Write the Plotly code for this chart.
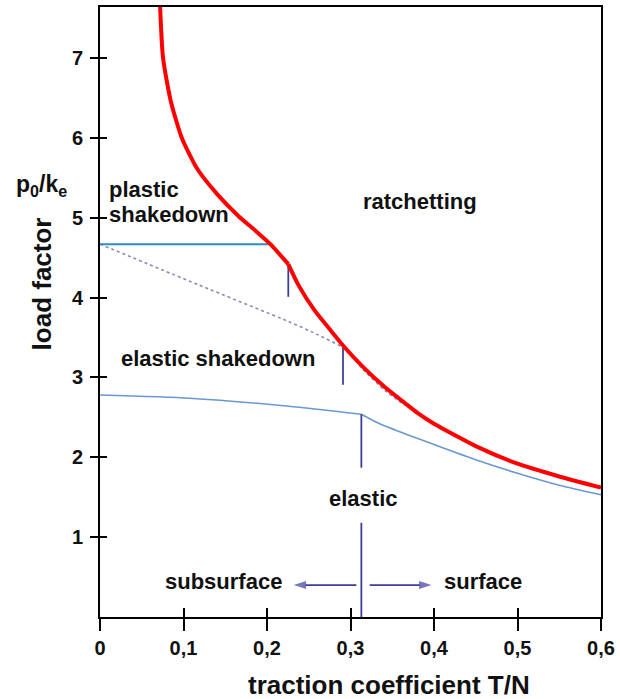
import plotly.graph_objects as go

# ---- data ----
# ratchetting boundary (red), split at the kink
red_upper_x = [0.072, 0.0755, 0.085, 0.098, 0.116, 0.140, 0.166, 0.186, 0.204, 0.2255]
red_upper_y = [7.64, 7.00, 6.45, 6.00, 5.62, 5.30, 5.02, 4.84, 4.67, 4.42]
red_lower_x = [0.2255, 0.2375, 0.257, 0.277, 0.291, 0.317, 0.341, 0.365, 0.381, 0.40, 0.45, 0.50, 0.55, 0.60]
red_lower_y = [4.42, 4.16, 3.84, 3.58, 3.40, 3.11, 2.88, 2.68, 2.55, 2.42, 2.14, 1.92, 1.76, 1.62]

# plastic shakedown limit (horizontal)
plastic_x = [0.0, 0.204]
plastic_y = [4.67, 4.67]

# elastic shakedown limit (dotted)
eshake_x = [0.0, 0.118, 0.226, 0.26, 0.291, 0.317, 0.341, 0.365]
eshake_y = [4.67, 4.16, 3.70, 3.54, 3.37, 3.08, 2.84, 2.65]

# elastic limit (thin blue), split at the kink
elastic_left_x = [0.0, 0.107, 0.226, 0.313]
elastic_left_y = [2.78, 2.74, 2.64, 2.54]
elastic_right_x = [0.313, 0.333, 0.369, 0.40, 0.45, 0.50, 0.55, 0.60]
elastic_right_y = [2.54, 2.43, 2.28, 2.16, 1.97, 1.80, 1.65, 1.53]

# vertical marker segments (x, y_top, y_bottom)
marker_x = [0.2255, 0.291, 0.313, 0.313]
marker_top = [4.42, 3.37, 2.54, 1.18]
marker_bot = [4.01, 2.91, 1.87, 0.0]

# region labels
labels = ["plastic", "shakedown", "ratchetting", "elastic shakedown", "elastic", "subsurface", "surface"]
label_x = [0.0084, 0.0084, 0.383, 0.141, 0.315, 0.148, 0.459]
label_y = [5.35, 5.04, 5.20, 3.24, 1.49, 0.45, 0.45]
label_anchor = ["left", "left", "center", "center", "center", "center", "center"]

# arrows (start x, end x, y)
arrow_x0 = [0.307, 0.323]
arrow_x1 = [0.232, 0.397]
arrow_y = [0.40, 0.40]

x_ticks = [0, 0.1, 0.2, 0.3, 0.4, 0.5, 0.6]
x_ticktext = ["0", "0,1", "0,2", "0,3", "0,4", "0,5", "0,6"]
y_ticks = [1, 2, 3, 4, 5, 6, 7]
y_ticktext = ["1", "2", "3", "4", "5", "6", "7"]

FONT = "Liberation Sans, Arial, sans-serif"
RED = "#ff0000"
LBLUE = "#2a8cc6"
CBLUE = "#6a98d2"
DBLUE = "#3d3d9e"
DOT = "#8a8ab6"

fig = go.Figure()

fig.add_trace(go.Scatter(x=eshake_x, y=eshake_y, mode="lines",
                         line=dict(color=DOT, width=1.6, dash="dot", shape="spline", smoothing=0.6),
                         hoverinfo="skip", showlegend=False))
fig.add_trace(go.Scatter(x=plastic_x, y=plastic_y, mode="lines",
                         line=dict(color=LBLUE, width=2),
                         hoverinfo="skip", showlegend=False))
for xs, ys in [(elastic_left_x, elastic_left_y), (elastic_right_x, elastic_right_y)]:
    fig.add_trace(go.Scatter(x=xs, y=ys, mode="lines",
                             line=dict(color=CBLUE, width=1.6, shape="spline", smoothing=0.6),
                             hoverinfo="skip", showlegend=False))
for mx, t, b in zip(marker_x, marker_top, marker_bot):
    fig.add_trace(go.Scatter(x=[mx, mx], y=[t, b], mode="lines",
                             line=dict(color=DBLUE, width=1.8),
                             hoverinfo="skip", showlegend=False))
for xs, ys in [(red_upper_x, red_upper_y), (red_lower_x, red_lower_y)]:
    fig.add_trace(go.Scatter(x=xs, y=ys, mode="lines",
                             line=dict(color=RED, width=4, shape="spline", smoothing=0.6),
                             hoverinfo="skip", showlegend=False))
for x0, x1, y in zip(arrow_x0, arrow_x1, arrow_y):
    fig.add_trace(go.Scatter(x=[x0, x1], y=[y, y], mode="lines+markers",
                             line=dict(color=DBLUE, width=1.8),
                             marker=dict(symbol=["circle", "arrow"], size=[0, 13], color=DBLUE,
                                         angleref="previous", line=dict(width=0)),
                             hoverinfo="skip", showlegend=False))

# invisible trace on overlay axes (for inward tick halves)
fig.add_trace(go.Scatter(x=[0.0], y=[0.0], xaxis="x2", yaxis="y2", mode="markers",
                         marker=dict(opacity=0), hoverinfo="skip", showlegend=False))

annotations = []
for t, x, y, a in zip(labels, label_x, label_y, label_anchor):
    annotations.append(dict(x=x, y=y, xref="x", yref="y", text=t, showarrow=False,
                            xanchor=a, yanchor="middle",
                            font=dict(family=FONT, size=22, color="#111111", weight="bold")))
annotations.append(dict(x=-0.115, y=4.17, xref="paper", yref="y", text="load factor",
                        textangle=-90, showarrow=False, xanchor="center", yanchor="middle",
                        font=dict(family=FONT, size=26, color="#111111", weight="bold")))
annotations.append(dict(x=-0.117, y=5.41, xref="paper", yref="y", text="p<sub>0</sub>/k<sub>e</sub>",
                        showarrow=False, xanchor="center", yanchor="middle",
                        font=dict(family=FONT, size=23, color="#111111", weight="bold")))
annotations.append(dict(x=0.346, y=-0.111, xref="x", yref="paper", text="traction coefficient T/N",
                        showarrow=False, xanchor="center", yanchor="middle",
                        font=dict(family=FONT, size=26, color="#111111", weight="bold")))

tickfont = dict(family=FONT, size=20, color="#111111", weight="bold")

fig.update_layout(
    width=620, height=699,
    margin=dict(l=100, r=17, t=5, b=82),
    paper_bgcolor="white", plot_bgcolor="white",
    showlegend=False,
    annotations=annotations,
    xaxis=dict(range=[0, 0.6], tickvals=x_ticks, ticktext=x_ticktext, ticks="outside",
               ticklen=12, tickwidth=2, tickcolor="black", showline=True, linecolor="black",
               linewidth=2, mirror=True, showgrid=False, zeroline=False, tickfont=tickfont,
               ticklabelstandoff=0),
    yaxis=dict(range=[0, 7.64], tickvals=y_ticks, ticktext=y_ticktext, ticks="outside",
               ticklen=8, tickwidth=2, tickcolor="black", showline=True, linecolor="black",
               linewidth=2, mirror=True, showgrid=False, zeroline=False, tickfont=tickfont,
               ticklabelstandoff=3),
    xaxis2=dict(range=[0, 0.6], overlaying="x", anchor="y", side="bottom",
                tickvals=x_ticks[1:-1], ticks="inside", ticklen=9, tickwidth=2, tickcolor="black",
                showticklabels=False, showline=False, showgrid=False, zeroline=False),
    yaxis2=dict(range=[0, 7.64], overlaying="y", anchor="x", side="left",
                tickvals=y_ticks, ticks="inside", ticklen=7, tickwidth=2, tickcolor="black",
                showticklabels=False, showline=False, showgrid=False, zeroline=False),
)

fig.write_html("out.html")
